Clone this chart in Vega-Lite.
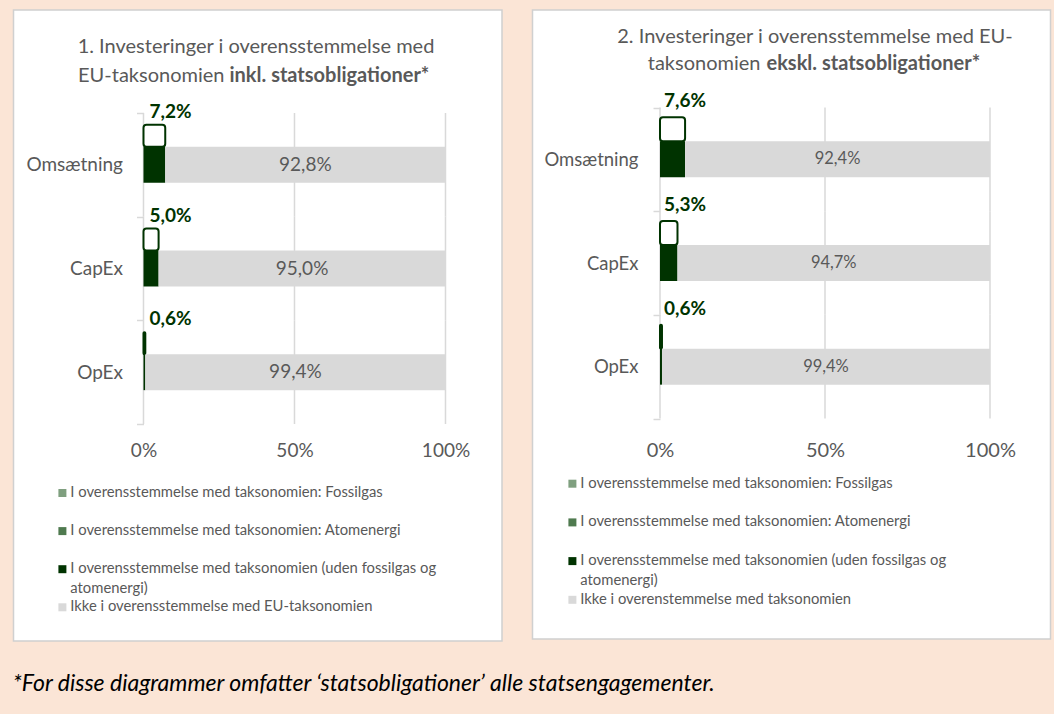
{
  "$schema": "https://vega.github.io/schema/vega-lite/v6.json",
  "background": "#FBE5D6",
  "padding": {"left": 12.5, "top": 0, "right": 3.5, "bottom": 18},
  "config": {
    "locale": {"number": {"decimal": ",", "thousands": ".", "grouping": [3], "currency": ["", " kr."]}},
    "font": "Lato",
    "view": {"fill": "white", "stroke": "#D0D0D0", "strokeWidth": 1.5},
    "concat": {"spacing": 28}
  },
  "title": {"text": "*For disse diagrammer omfatter ‘statsobligationer’ alle statsengagementer.", "orient": "bottom", "anchor": "start", "frame": "bounds", "offset": 31, "fontSize": 23, "fontStyle": "italic", "fontWeight": "normal", "color": "#000000", "font": "Lato"},
  "datasets": {
    "grid": [
      {"cat": "Omsætning", "g": 0}, {"cat": "Omsætning", "g": 0.5}, {"cat": "Omsætning", "g": 1},
      {"cat": "CapEx", "g": 0}, {"cat": "CapEx", "g": 0.5}, {"cat": "CapEx", "g": 1},
      {"cat": "OpEx", "g": 0}, {"cat": "OpEx", "g": 0.5}, {"cat": "OpEx", "g": 1}
    ],
    "left": [
      {"cat": "Omsætning", "s": "I overensstemmelse med taksonomien: Fossilgas", "v": 0},
      {"cat": "Omsætning", "s": "I overensstemmelse med taksonomien: Atomenergi", "v": 0},
      {"cat": "Omsætning", "s": "I overensstemmelse med taksonomien (uden fossilgas og atomenergi)", "v": 0.072},
      {"cat": "Omsætning", "s": "Ikke i overensstemmelse med EU-taksonomien", "v": 0.928},
      {"cat": "CapEx", "s": "I overensstemmelse med taksonomien: Fossilgas", "v": 0},
      {"cat": "CapEx", "s": "I overensstemmelse med taksonomien: Atomenergi", "v": 0},
      {"cat": "CapEx", "s": "I overensstemmelse med taksonomien (uden fossilgas og atomenergi)", "v": 0.05},
      {"cat": "CapEx", "s": "Ikke i overensstemmelse med EU-taksonomien", "v": 0.95},
      {"cat": "OpEx", "s": "I overensstemmelse med taksonomien: Fossilgas", "v": 0},
      {"cat": "OpEx", "s": "I overensstemmelse med taksonomien: Atomenergi", "v": 0},
      {"cat": "OpEx", "s": "I overensstemmelse med taksonomien (uden fossilgas og atomenergi)", "v": 0.006},
      {"cat": "OpEx", "s": "Ikke i overensstemmelse med EU-taksonomien", "v": 0.994}
    ],
    "right": [
      {"cat": "Omsætning", "s": "I overensstemmelse med taksonomien: Fossilgas", "v": 0},
      {"cat": "Omsætning", "s": "I overensstemmelse med taksonomien: Atomenergi", "v": 0},
      {"cat": "Omsætning", "s": "I overensstemmelse med taksonomien (uden fossilgas og atomenergi)", "v": 0.076},
      {"cat": "Omsætning", "s": "Ikke i overenstemmelse med taksonomien", "v": 0.924},
      {"cat": "CapEx", "s": "I overensstemmelse med taksonomien: Fossilgas", "v": 0},
      {"cat": "CapEx", "s": "I overensstemmelse med taksonomien: Atomenergi", "v": 0},
      {"cat": "CapEx", "s": "I overensstemmelse med taksonomien (uden fossilgas og atomenergi)", "v": 0.053},
      {"cat": "CapEx", "s": "Ikke i overenstemmelse med taksonomien", "v": 0.947},
      {"cat": "OpEx", "s": "I overensstemmelse med taksonomien: Fossilgas", "v": 0},
      {"cat": "OpEx", "s": "I overensstemmelse med taksonomien: Atomenergi", "v": 0},
      {"cat": "OpEx", "s": "I overensstemmelse med taksonomien (uden fossilgas og atomenergi)", "v": 0.006},
      {"cat": "OpEx", "s": "Ikke i overenstemmelse med taksonomien", "v": 0.994}
    ]
  },
  "hconcat": [
    {
      "width": 488.5,
      "height": 631,
      "title": {"text": "1. Investeringer i overensstemmelse med", "anchor": "middle", "frame": "group", "dx": -1.75, "offset": -56, "fontSize": 20, "fontWeight": "normal", "color": "#595959", "font": "Lato"},
      "resolve": {"scale": {"x": "independent"}},
      "encoding": {
        "y": {"field": "cat", "type": "nominal", "sort": null,
          "scale": {"domain": ["Omsætning", "CapEx", "OpEx"], "range": [103, 414], "paddingInner": 0, "paddingOuter": 0},
          "axis": {"offset": -130, "domain": false, "ticks": true, "tickBand": "extent", "tickSize": 7, "tickColor": "#D9D9D9", "tickWidth": 1.5, "grid": false, "labelFontSize": 19, "labelColor": "#595959", "labelPadding": 14,
            "title": "inkl. statsobligationer*", "titleFontSize": 20, "titleFontWeight": "bold", "titleColor": "#595959", "titleAngle": 0, "titleX": 85.5, "titleY": 65, "titleAlign": "left", "titleBaseline": "middle"}}
      },
      "layer": [
        {
          "data": {"name": "grid"},
          "mark": {"type": "bar", "height": {"band": 1}, "fill": "#D9D9D9", "stroke": "#D9D9D9", "strokeWidth": 1.5},
          "encoding": {
            "x": {"field": "g", "type": "quantitative", "scale": {"domain": [-0.43046, 1.18709], "nice": false, "zero": false}, "axis": null},
            "x2": {"field": "g"}
          }
        },
        {
          "data": {"name": "left"},
          "transform": [{"filter": "datum.s == 'I overensstemmelse med taksonomien (uden fossilgas og atomenergi)'"}],
          "mark": {"type": "bar", "fill": "white", "stroke": "#003300", "strokeWidth": 2, "cornerRadius": 3, "height": 22, "yOffset": -29},
          "encoding": {
            "x": {"field": "v", "type": "quantitative", "stack": null, "scale": {"domain": [-0.43046, 1.18709], "nice": false, "zero": false}, "axis": null}
          }
        },
        {
          "data": {"name": "left"},
          "mark": {"type": "bar", "height": {"band": 0.347}},
          "encoding": {
            "x": {"field": "v", "type": "quantitative", "stack": "zero", "scale": {"domain": [-0.43046, 1.18709], "nice": false, "zero": false},
              "axis": {"values": [0, 0.5, 1], "format": ".0%", "grid": false, "ticks": false, "tickSize": 0, "domain": false, "labelFontSize": 19, "labelColor": "#595959", "labelPadding": 26, "labelBaseline": "middle", "labelFlush": false, "offset": -217,
                "title": "EU-taksonomien", "titleFontSize": 20, "titleFontWeight": "normal", "titleColor": "#595959", "titleX": 210.5, "titleY": -349, "titleAlign": "right", "titleBaseline": "middle", "titleAngle": 0}},
            "color": {"field": "s", "type": "nominal",
              "scale": {"domain": ["I overensstemmelse med taksonomien: Fossilgas", "I overensstemmelse med taksonomien: Atomenergi", "I overensstemmelse med taksonomien (uden fossilgas og atomenergi)", "Ikke i overensstemmelse med EU-taksonomien"], "range": ["#7F9F7F", "#4F7A4F", "#003300", "#D9D9D9"]},
              "legend": {"orient": "none", "legendX": 41.5, "legendY": 475.6, "title": null, "direction": "vertical", "symbolType": "square", "symbolSize": 64, "symbolStrokeWidth": 0, "labelFontSize": 14.8, "labelColor": "#595959", "labelLimit": 600, "labelOffset": 0.5, "rowPadding": 2.1, "gridAlign": "all", "padding": 0,
                "labelExpr": "datum.label == 'I overensstemmelse med taksonomien (uden fossilgas og atomenergi)' ? ['I overensstemmelse med taksonomien (uden fossilgas og', 'atomenergi)'] : datum.label",
                "encode": {"labels": {"update": {"lineHeight": {"value": 20}}}}}}
          }
        },
        {
          "data": {"name": "left"},
          "transform": [{"filter": "datum.s == 'Ikke i overensstemmelse med EU-taksonomien'"}],
          "mark": {"type": "text", "fontSize": 19, "color": "#595959", "align": "center", "baseline": "middle"},
          "encoding": {
            "x": {"field": "v", "type": "quantitative", "scale": {"domain": [-0.37417, 2.86093], "reverse": true, "nice": false, "zero": false}, "axis": null},
            "text": {"field": "v", "type": "quantitative", "format": ".1%"}
          }
        },
        {
          "data": {"name": "left"},
          "transform": [{"filter": "datum.s == 'I overensstemmelse med taksonomien (uden fossilgas og atomenergi)'"}],
          "mark": {"type": "text", "fontSize": 19, "fontWeight": "bold", "color": "#003300", "align": "left", "baseline": "middle", "dx": 6, "dy": -53},
          "encoding": {
            "x": {"datum": 0, "type": "quantitative", "scale": {"domain": [-0.43046, 1.18709], "nice": false, "zero": false}, "axis": null},
            "text": {"field": "v", "type": "quantitative", "format": ".1%"}
          }
        }
      ]
    },
    {
      "width": 518,
      "height": 629,
      "title": {"text": "2. Investeringer i overensstemmelse med EU-", "anchor": "middle", "frame": "group", "dx": 23.5, "offset": -46, "fontSize": 20, "fontWeight": "normal", "color": "#595959", "font": "Lato"},
      "resolve": {"scale": {"x": "independent"}},
      "encoding": {
        "y": {"field": "cat", "type": "nominal", "sort": null,
          "scale": {"domain": ["Omsætning", "CapEx", "OpEx"], "range": [97.5, 408.5], "paddingInner": 0, "paddingOuter": 0},
          "axis": {"offset": -127.5, "domain": false, "ticks": true, "tickBand": "extent", "tickSize": 7, "tickColor": "#D9D9D9", "tickWidth": 1.5, "grid": false, "labelFontSize": 18.5, "labelColor": "#595959", "labelPadding": 15,
            "title": "ekskl. statsobligationer*", "titleFontSize": 20, "titleFontWeight": "bold", "titleColor": "#595959", "titleAngle": 0, "titleX": 106, "titleY": 53.5, "titleAlign": "left", "titleBaseline": "middle"}}
      },
      "layer": [
        {
          "data": {"name": "grid"},
          "mark": {"type": "bar", "height": {"band": 1}, "fill": "#D9D9D9", "stroke": "#D9D9D9", "strokeWidth": 1.5},
          "encoding": {
            "x": {"field": "g", "type": "quantitative", "scale": {"domain": [-0.38636, 1.18333], "nice": false, "zero": false}, "axis": null},
            "x2": {"field": "g"}
          }
        },
        {
          "data": {"name": "right"},
          "transform": [{"filter": "datum.s == 'I overensstemmelse med taksonomien (uden fossilgas og atomenergi)'"}],
          "mark": {"type": "bar", "fill": "white", "stroke": "#003300", "strokeWidth": 2, "cornerRadius": 3, "height": 24, "yOffset": -30},
          "encoding": {
            "x": {"field": "v", "type": "quantitative", "stack": null, "scale": {"domain": [-0.38636, 1.18333], "nice": false, "zero": false}, "axis": null}
          }
        },
        {
          "data": {"name": "right"},
          "mark": {"type": "bar", "height": {"band": 0.347}},
          "encoding": {
            "x": {"field": "v", "type": "quantitative", "stack": "zero", "scale": {"domain": [-0.38636, 1.18333], "nice": false, "zero": false},
              "axis": {"values": [0, 0.5, 1], "format": ".0%", "grid": false, "ticks": false, "tickSize": 0, "domain": false, "labelFontSize": 20, "labelColor": "#595959", "labelPadding": 31.5, "labelBaseline": "middle", "labelFlush": false, "offset": -220.5,
                "title": "taksonomien", "titleFontSize": 20, "titleFontWeight": "normal", "titleColor": "#595959", "titleX": 227.5, "titleY": -355, "titleAlign": "right", "titleBaseline": "middle", "titleAngle": 0}},
            "color": {"field": "s", "type": "nominal",
              "scale": {"domain": ["I overensstemmelse med taksonomien: Fossilgas", "I overensstemmelse med taksonomien: Atomenergi", "I overensstemmelse med taksonomien (uden fossilgas og atomenergi)", "Ikke i overenstemmelse med taksonomien"], "range": ["#7F9F7F", "#4F7A4F", "#003300", "#D9D9D9"]},
              "legend": {"orient": "none", "legendX": 32.5, "legendY": 466.3, "title": null, "direction": "vertical", "symbolType": "square", "symbolSize": 64, "symbolStrokeWidth": 0, "labelFontSize": 14.8, "labelColor": "#595959", "labelLimit": 600, "labelOffset": 0.5, "rowPadding": 2.7, "gridAlign": "all", "padding": 0,
                "labelExpr": "datum.label == 'I overensstemmelse med taksonomien (uden fossilgas og atomenergi)' ? ['I overensstemmelse med taksonomien (uden fossilgas og', 'atomenergi)'] : datum.label",
                "encode": {"labels": {"update": {"lineHeight": {"value": 20}}}}}}
          }
        },
        {
          "data": {"name": "right"},
          "transform": [{"filter": "datum.s == 'Ikke i overenstemmelse med taksonomien'"}],
          "mark": {"type": "text", "fontSize": 16.5, "color": "#595959", "align": "center", "baseline": "middle"},
          "encoding": {
            "x": {"field": "v", "type": "quantitative", "scale": {"domain": [-0.36667, 2.77273], "reverse": true, "nice": false, "zero": false}, "axis": null},
            "text": {"field": "v", "type": "quantitative", "format": ".1%"}
          }
        },
        {
          "data": {"name": "right"},
          "transform": [{"filter": "datum.s == 'I overensstemmelse med taksonomien (uden fossilgas og atomenergi)'"}],
          "mark": {"type": "text", "fontSize": 19, "fontWeight": "bold", "color": "#003300", "align": "left", "baseline": "middle", "dx": 4, "dy": -58},
          "encoding": {
            "x": {"datum": 0, "type": "quantitative", "scale": {"domain": [-0.38636, 1.18333], "nice": false, "zero": false}, "axis": null},
            "text": {"field": "v", "type": "quantitative", "format": ".1%"}
          }
        }
      ]
    }
  ],
  "resolve": {"scale": {"color": "independent"}, "legend": {"color": "independent"}}
}
